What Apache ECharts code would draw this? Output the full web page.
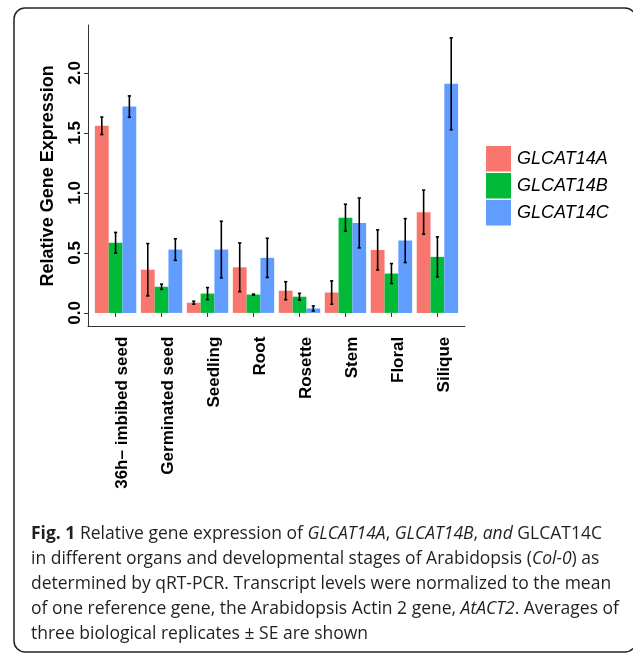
<!DOCTYPE html>
<html><head><meta charset="utf-8">
<script src="https://cdn.jsdelivr.net/npm/echarts@6/dist/echarts.min.js"></script>
<style>html,body{margin:0;padding:0;background:#fff}#c{width:633px;height:655px}</style>
</head><body><div id="c"></div>
<script>
// ---- data ----
const categories = ['36h\u2013 imbibed seed','Germinated seed','Seedling','Root','Rosette','Stem','Floral','Silique'];
const seriesNames = ['GLCAT14A','GLCAT14B','GLCAT14C'];
const meanA = [1.56, 0.36, 0.085, 0.38, 0.185, 0.17, 0.525, 0.84];
const seA   = [0.073, 0.218, 0.012, 0.203, 0.075, 0.097, 0.167, 0.184];
const meanB = [0.585, 0.218, 0.161, 0.153, 0.135, 0.794, 0.328, 0.467];
const seB   = [0.086, 0.022, 0.05, 0.004, 0.028, 0.112, 0.083, 0.167];
const meanC = [1.72, 0.528, 0.528, 0.459, 0.037, 0.75, 0.603, 1.91];
const seC   = [0.089, 0.09, 0.236, 0.163, 0.021, 0.208, 0.183, 0.383];
const yTicks = [0, 0.5, 1.0, 1.5, 2.0];
const yMin = -0.115, yMax = 2.40;
const colors = ['#F8766D', '#00BA38', '#619CFF'];

const means = [meanA, meanB, meanC];
const ses = [seA, seB, seC];

const axisFont = 'Liberation Sans, Arial, Helvetica, sans-serif';

const barSeries = seriesNames.map((n, k) => ({
  name: n, type: 'bar', xAxisIndex: 0, yAxisIndex: 0,
  data: means[k],
  itemStyle: { color: colors[k] },
  barGap: '0%', barCategoryGap: '10%',
  silent: true
}));

const errSeries = seriesNames.map((n, k) => ({
  name: 'err' + k, type: 'custom', xAxisIndex: 0, yAxisIndex: 0,
  data: means[k].map((m, i) => [i, m - ses[k][i], m + ses[k][i]]),
  encode: { x: 0, y: [1, 2] },
  z: 10, silent: true,
  renderItem: function (params, api) {
    const idx = api.value(0);
    const lo = api.coord([idx, api.value(1)]);
    const hi = api.coord([idx, api.value(2)]);
    const band = api.size([1, 0])[0];
    const x = lo[0] + (k - 1) * band * 0.3;
    const cap = 1.6;
    const st = { stroke: '#000', lineWidth: 1.6 };
    return { type: 'group', children: [
      { type: 'line', shape: { x1: x, y1: lo[1], x2: x, y2: hi[1] }, style: st },
      { type: 'line', shape: { x1: x - cap, y1: lo[1], x2: x + cap, y2: lo[1] }, style: st },
      { type: 'line', shape: { x1: x - cap, y1: hi[1], x2: x + cap, y2: hi[1] }, style: st }
    ]};
  }
}));

const caption =
  '{b|Fig. 1} Relative gene expression of {i|GLCAT14A}, {i|GLCAT14B}, {i|and} GLCAT14C\n' +
  'in different organs and developmental stages of Arabidopsis ({i|Col-0}) as\n' +
  'determined by qRT-PCR. Transcript levels were normalized to the mean\n' +
  'of one reference gene, the Arabidopsis Actin 2 gene, {i|AtACT2}. Averages of\n' +
  'three biological replicates \u00b1 SE are shown';
const capFont = { fontFamily: 'Open Sans', fontSize: 17.5, lineHeight: 25 };

const chart = echarts.init(document.getElementById('c'), null, { renderer: 'canvas' });
chart.setOption({
  animation: false,
  backgroundColor: '#fff',
  grid: [
    { left: 92.6, right: 172.6, top: 25, bottom: 328.3, containLabel: false },
    { left: 88, right: 168, top: 25, bottom: 328.3, containLabel: false }
  ],
  xAxis: [
    { type: 'category', gridIndex: 0, data: categories,
      axisLine: { show: false },
      axisTick: { show: true, alignWithLabel: true, length: 4, lineStyle: { color: '#333', width: 1 } },
      axisLabel: { rotate: 90, interval: 0, margin: 10, color: '#000', fontSize: 17, fontWeight: 'bold',
        fontFamily: axisFont, verticalAlign: 'top', lineHeight: 14.4 },
      splitLine: { show: false } },
    { type: 'value', gridIndex: 1, min: 0, max: 1,
      axisLine: { show: true, lineStyle: { color: '#333', width: 1 } },
      axisTick: { show: false }, axisLabel: { show: false }, splitLine: { show: false } }
  ],
  yAxis: [
    { type: 'value', gridIndex: 0, min: yMin, max: yMax, offset: 4.6,
      name: 'Relative Gene Expression', nameLocation: 'middle', nameRotate: 90, nameGap: 31,
      nameTextStyle: { color: '#000', fontSize: 18, fontWeight: 'bold', fontFamily: axisFont },
      axisLine: { show: true, lineStyle: { color: '#333', width: 1 } },
      axisTick: { show: true, length: 4, customValues: yTicks, lineStyle: { color: '#333', width: 1 } },
      axisLabel: { rotate: 90, margin: 4, customValues: yTicks, color: '#000', fontSize: 17, fontWeight: 'bold',
        fontFamily: axisFont, formatter: v => v.toFixed(1) },
      splitLine: { show: false } },
    { type: 'value', gridIndex: 1, show: false, min: 0, max: 1 }
  ],
  legend: {
    orient: 'vertical', left: 481, top: 141,
    data: seriesNames, icon: 'rect', itemWidth: 25, itemHeight: 25.5, itemGap: 1.5,
    textStyle: { color: '#000', fontSize: 18, fontStyle: 'italic', fontFamily: axisFont, padding: [0, 0, 0, 1] },
    selectedMode: false
  },
  series: barSeries.concat(errSeries),
  graphic: [
    { type: 'rect', silent: true, z: 100,
      shape: { x: 14, y: 8, width: 622, height: 644, r: 11 },
      style: { fill: 'none', stroke: '#222', lineWidth: 1.5 } },
    { type: 'text', silent: true, left: 31, top: 521.5,
      style: Object.assign({ text: caption, fill: '#231f20',
        rich: {
          b: Object.assign({ fontWeight: 'bold', fill: '#231f20' }, capFont),
          i: Object.assign({ fontStyle: 'italic', fill: '#231f20' }, capFont)
        } }, capFont) }
  ]
});
</script>
</body></html>
